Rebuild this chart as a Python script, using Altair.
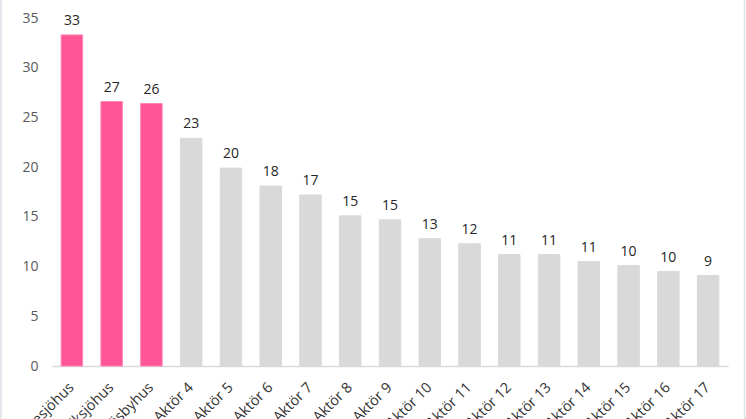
import altair as alt
import pandas as pd

# Actors and their values, in display order
actors = [
    "Vänesjöhus", "Eksjöhus", "Väsbyhus", "Aktör 4", "Aktör 5", "Aktör 6",
    "Aktör 7", "Aktör 8", "Aktör 9", "Aktör 10", "Aktör 11", "Aktör 12",
    "Aktör 13", "Aktör 14", "Aktör 15", "Aktör 16", "Aktör 17",
]
values = [33.3, 26.6, 26.4, 22.9, 19.9, 18.1, 17.2, 15.1, 14.7,
          12.8, 12.3, 11.2, 11.2, 10.5, 10.1, 9.5, 9.1]
groups = ["named"] * 3 + ["other"] * 14

y_ticks = [0, 5, 10, 15, 20, 25, 30, 35]

df = pd.DataFrame({"actor": actors, "value": values, "group": groups})

FONT = "Open Sans"

x_enc = alt.X(
    "actor:N",
    sort=None,
    scale=alt.Scale(paddingInner=0.46, paddingOuter=0.23),
    axis=alt.Axis(
        title=None,
        labelAngle=-45,
        labelAlign="right",
        labelBaseline="middle",
        labelPadding=19,
        labelFontSize=14.5,
        labelColor="#333333",
        labelFont=FONT,
        ticks=False,
        domainColor="#D9D9D9",
        domainWidth=1.5,
        labelOverlap=False,
    ),
)
y_enc = alt.Y(
    "value:Q",
    scale=alt.Scale(domain=[0, 35], nice=False),
    axis=alt.Axis(
        title=None,
        values=y_ticks,
        grid=False,
        domain=False,
        ticks=False,
        labelPadding=14,
        labelFontSize=14,
        labelColor="#595959",
        labelFont=FONT,
    ),
)

base = alt.Chart(df).encode(x=x_enc, y=y_enc)

bars = base.mark_bar(strokeWidth=1).encode(
    color=alt.Color(
        "group:N",
        scale=alt.Scale(domain=["named", "other"], range=["#FF5496", "#D9D9D9"]),
        legend=None,
    ),
    stroke=alt.Stroke(
        "group:N",
        scale=alt.Scale(domain=["named", "other"], range=["#FF85B5", "#D9D9D9"]),
        legend=None,
    ),
)

labels = base.mark_text(
    baseline="alphabetic", dy=-10, fontSize=14, font=FONT, color="#262626"
).encode(text=alt.Text("value:Q", format=".0f"))

# Thin outer frame lines at the left and right edges of the chart area
frame_data = alt.Data(values=[{}])
left_edge = alt.Chart(frame_data).mark_rule(color="#DDE1E6", strokeWidth=1.5).encode(
    x=alt.value(-51), y=alt.value(-18), y2=alt.value(401)
)
right_edge = alt.Chart(frame_data).mark_rule(color="#DDE1E6", strokeWidth=1.5).encode(
    x=alt.value(692.5), y=alt.value(-18), y2=alt.value(401)
)

chart = (
    alt.layer(bars, labels, left_edge, right_edge)
    .properties(
        width=676,
        height=348,
        autosize="none",
        padding={"left": 52, "top": 18, "right": 18, "bottom": 53},
        background="white",
    )
    .configure_view(stroke=None)
)

chart.save("out.html", embed_options={"renderer": "svg", "actions": False})
